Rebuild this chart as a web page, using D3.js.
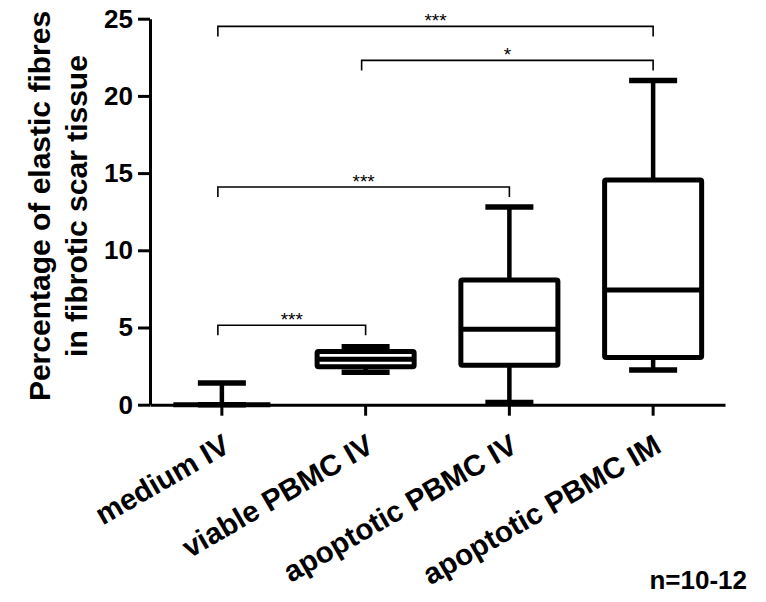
<!DOCTYPE html>
<html>
<head>
<meta charset="utf-8">
<script src="https://cdn.jsdelivr.net/npm/d3@7"></script>
<style>
    body { margin: 0; background: #fff; }
    text { font-family: "Liberation Sans", Arial, sans-serif; }
</style>
</head>
<body>
<div id="chart-area"></div>
<script>
// Data
var categories = ["medium IV", "viable PBMC IV", "apoptotic PBMC IV", "apoptotic PBMC IM"];
var minVals = [0, 2.1, 0.15, 2.25];
var q1Vals = [0, 2.45, 2.55, 3.05];
var medianVals = [0, 2.95, 4.88, 7.43];
var q3Vals = [0, 3.45, 8.08, 14.55];
var maxVals = [1.4, 3.75, 12.8, 21.0];
var yTicks = [0, 5, 10, 15, 20, 25];

// significance brackets
var bracketFrom = [0, 1, 0, 0];
var bracketTo = [3, 3, 2, 1];
var bracketLevel = [24.5, 22.3, 14.1, 5.15];
var bracketLabel = ["***", "*", "***", "***"];

var width = 766;
var height = 602;

var svg = d3.select("#chart-area").append("svg")
    .attr("width", width)
    .attr("height", height);

var x = d3.scaleBand()
    .domain(categories)
    .range([150, 725])
    .padding(0);

var y = d3.scaleLinear()
    .domain([0, 25])
    .range([404.7, 18.7]);

var boxW = x.bandwidth() * 0.675;
var capW = x.bandwidth() * 0.334;

var data = categories.map(function(c, i) {
    return {
        name: c,
        min: minVals[i],
        q1: q1Vals[i],
        median: medianVals[i],
        q3: q3Vals[i],
        max: maxVals[i]
    };
});

function cx(name) {
    return x(name) + x.bandwidth() / 2;
}

// X axis
var bottomAxis = d3.axisBottom(x).tickSize(11).tickSizeOuter(0).tickFormat("");
var xg = svg.append("g")
    .attr("class", "bottom axis")
    .attr("transform", "translate(0," + y(0) + ")")
    .call(bottomAxis);
xg.select(".domain").attr("stroke-width", 3);
xg.selectAll(".tick line").attr("stroke-width", 3);

// X labels (rotated)
svg.selectAll(".x-label")
    .data(categories)
    .enter()
    .append("text")
    .attr("class", "x-label")
    .attr("transform", function(d) {
        return "translate(" + (cx(d) + 10) + ",451) rotate(-30)";
    })
    .attr("text-anchor", "end")
    .attr("font-size", "29.5px")
    .attr("font-weight", "bold")
    .text(function(d) { return d; });

// Y axis
var leftAxis = d3.axisLeft(y).tickValues(yTicks).tickSize(12).tickSizeOuter(0).tickPadding(5);
var yg = svg.append("g")
    .attr("class", "left axis")
    .attr("transform", "translate(150,0)")
    .call(leftAxis);
yg.select(".domain").attr("stroke-width", 3);
yg.selectAll(".tick line").attr("stroke-width", 3);
yg.selectAll(".tick text")
    .attr("font-size", "26px")
    .attr("font-weight", "bold")
    .attr("font-family", "'Liberation Sans', Arial, sans-serif");

// Y label
svg.append("text")
    .attr("transform", "translate(50,206) rotate(-90)")
    .attr("text-anchor", "middle")
    .attr("font-size", "30px")
    .attr("font-weight", "bold")
    .text("Percentage of elastic fibres");
svg.append("text")
    .attr("transform", "translate(87,206) rotate(-90)")
    .attr("text-anchor", "middle")
    .attr("font-size", "30px")
    .attr("font-weight", "bold")
    .text("in fibrotic scar tissue");

// Boxes
var boxes = svg.selectAll(".box")
    .data(data)
    .enter()
    .append("g")
    .attr("class", "box");

// whiskers
boxes.append("line")
    .attr("x1", function(d) { return cx(d.name); })
    .attr("x2", function(d) { return cx(d.name); })
    .attr("y1", function(d) { return y(d.max); })
    .attr("y2", function(d) { return y(d.min); })
    .attr("stroke", "black")
    .attr("stroke-width", 4.5);

boxes.append("line")
    .attr("x1", function(d) { return cx(d.name) - capW / 2; })
    .attr("x2", function(d) { return cx(d.name) + capW / 2; })
    .attr("y1", function(d) { return y(d.max); })
    .attr("y2", function(d) { return y(d.max); })
    .attr("stroke", "black")
    .attr("stroke-width", 5.5);

boxes.append("line")
    .attr("x1", function(d) { return cx(d.name) - capW / 2; })
    .attr("x2", function(d) { return cx(d.name) + capW / 2; })
    .attr("y1", function(d) { return y(d.min); })
    .attr("y2", function(d) { return y(d.min); })
    .attr("stroke", "black")
    .attr("stroke-width", 5.5);

boxes.append("rect")
    .attr("x", function(d) { return cx(d.name) - boxW / 2; })
    .attr("y", function(d) { return y(d.q3); })
    .attr("width", boxW)
    .attr("height", function(d) { return y(d.q1) - y(d.q3); })
    .attr("fill", "white")
    .attr("stroke", "black")
    .attr("stroke-width", 5)
    .attr("rx", 1.5);

boxes.append("line")
    .attr("x1", function(d) { return cx(d.name) - boxW / 2; })
    .attr("x2", function(d) { return cx(d.name) + boxW / 2; })
    .attr("y1", function(d) { return y(d.median); })
    .attr("y2", function(d) { return y(d.median); })
    .attr("stroke", "black")
    .attr("stroke-width", 5);

// Brackets
var brackets = bracketFrom.map(function(f, i) {
    return {
        x1: cx(categories[f]) - 4,
        x2: cx(categories[bracketTo[i]]),
        level: bracketLevel[i],
        label: bracketLabel[i]
    };
});

svg.selectAll(".bracket")
    .data(brackets)
    .enter()
    .append("path")
    .attr("class", "bracket")
    .attr("d", function(d) {
        var yy = y(d.level);
        return "M" + d.x1 + "," + (yy + 10) + "V" + yy + "H" + d.x2 + "V" + (yy + 10);
    })
    .attr("fill", "none")
    .attr("stroke", "black")
    .attr("stroke-width", 1.6);

svg.selectAll(".star")
    .data(brackets)
    .enter()
    .append("text")
    .attr("class", "star")
    .attr("x", function(d) { return (d.x1 + d.x2) / 2; })
    .attr("y", function(d) { return y(d.level) + 1; })
    .attr("text-anchor", "middle")
    .attr("font-size", "19px")
    .text(function(d) { return d.label; });

// n note
svg.append("text")
    .attr("x", 747)
    .attr("y", 589)
    .attr("text-anchor", "end")
    .attr("font-size", "26px")
    .attr("font-weight", "bold")
    .text("n=10-12");
</script>
</body>
</html>
